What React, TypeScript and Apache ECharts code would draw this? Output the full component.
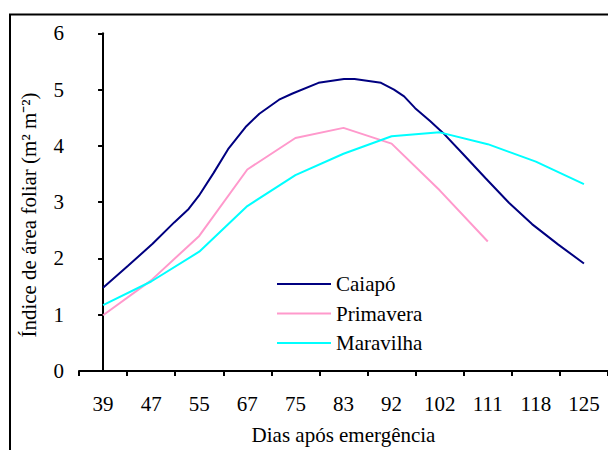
import React, { useEffect, useRef } from "react";
import * as echarts from "echarts";

const categories = ["39", "47", "55", "67", "75", "83", "92", "102", "111", "118", "125"];

const primavera = [0.99, 1.61, 2.4, 3.58, 4.14, 4.32, 4.04, 3.21, 2.3, null, null];
const maravilha = [1.17, 1.59, 2.12, 2.93, 3.48, 3.86, 4.17, 4.24, 4.03, 3.72, 3.32];

// Caiapó curve: positions along the category axis (in category units) and values
const caiapoPos = [0, 0.52, 1.03, 1.48, 1.78, 1.99, 2.3, 2.6, 2.98, 3.25, 3.66, 3.94, 4.48, 5.01, 5.23, 5.78, 6.05, 6.26, 6.49, 6.8, 7.07, 7.48, 7.96, 8.44, 8.92, 9.46, 10.0];
const caiapoValues = [1.48, 1.87, 2.26, 2.64, 2.88, 3.11, 3.52, 3.94, 4.35, 4.57, 4.82, 4.93, 5.12, 5.19, 5.19, 5.12, 5.0, 4.88, 4.67, 4.44, 4.23, 3.86, 3.42, 2.99, 2.61, 2.25, 1.91];

const yTicks = { min: 0, max: 6, interval: 1 };

const FONT = "Liberation Serif";

export default function App() {
  const ref = useRef<HTMLDivElement>(null);
  useEffect(() => {
    if (!ref.current) return;
    const chart = echarts.init(ref.current, null, { renderer: "svg" });
    const caiapoData = caiapoPos.map((p, i) => [p, caiapoValues[i]]);
    const txt = { fontFamily: FONT, fontSize: 21, color: "#000" };
    chart.setOption({
      animation: false,
      backgroundColor: "#ffffff",
      textStyle: { fontFamily: FONT, color: "#000", fontSize: 21 },
      grid: { left: 79, top: 33.3, right: -10, bottom: 77.3, containLabel: false },
      legend: {
        orient: "vertical",
        left: 277,
        top: 273.5,
        padding: 0,
        icon: "rect",
        itemWidth: 54,
        itemHeight: 2,
        itemGap: 8.5,
        textStyle: { ...txt, lineHeight: 20 },
        data: ["Caiapó", "Primavera", "Maravilha"],
      },
      xAxis: [
        {
          type: "category",
          data: categories,
          boundaryGap: true,
          name: "Dias após emergência",
          nameLocation: "middle",
          nameGap: 53,
          nameTextStyle: txt,
          axisLine: { lineStyle: { color: "#000", width: 2 } },
          axisTick: { show: true, length: 5, lineStyle: { color: "#000", width: 2 } },
          axisLabel: { ...txt, margin: 22 },
          splitLine: { show: false },
        },
        {
          type: "value",
          min: -0.5,
          max: 10.5,
          show: false,
        },
      ],
      yAxis: {
        type: "value",
        min: yTicks.min,
        max: yTicks.max,
        interval: yTicks.interval,
        axisLine: { show: true, lineStyle: { color: "#000", width: 2 } },
        axisTick: { show: true, length: 5, lineStyle: { color: "#000", width: 2 } },
        axisLabel: { ...txt, margin: 15 },
        splitLine: { show: false },
      },
      graphic: [
        {
          type: "rect",
          shape: { x: 10, y: 14.5, width: 700, height: 500 },
          style: { fill: "none", stroke: "#000", lineWidth: 2 },
          silent: true,
        },
        {
          type: "text",
          x: 29,
          y: 215,
          rotation: Math.PI / 2,
          style: {
            text: "Índice de área foliar (m² m⁻²)",
            fontFamily: FONT,
            fontSize: 21,
            fill: "#000",
            textAlign: "center",
            textVerticalAlign: "middle",
          },
        },
      ],
      series: [
        {
          name: "Caiapó",
          type: "line",
          xAxisIndex: 1,
          data: caiapoData,
          symbol: "none",
          lineStyle: { color: "#000080", width: 2 },
          itemStyle: { color: "#000080" },
        },
        {
          name: "Primavera",
          type: "line",
          data: primavera,
          symbol: "none",
          lineStyle: { color: "#FF99CC", width: 2 },
          itemStyle: { color: "#FF99CC" },
        },
        {
          name: "Maravilha",
          type: "line",
          data: maravilha,
          symbol: "none",
          lineStyle: { color: "#00FFFF", width: 2 },
          itemStyle: { color: "#00FFFF" },
        },
      ],
    });
    return () => chart.dispose();
  }, []);
  return (
    <div
      ref={ref}
      style={{ position: "fixed", left: 0, top: 0, width: 608, height: 450 }}
    />
  );
}
